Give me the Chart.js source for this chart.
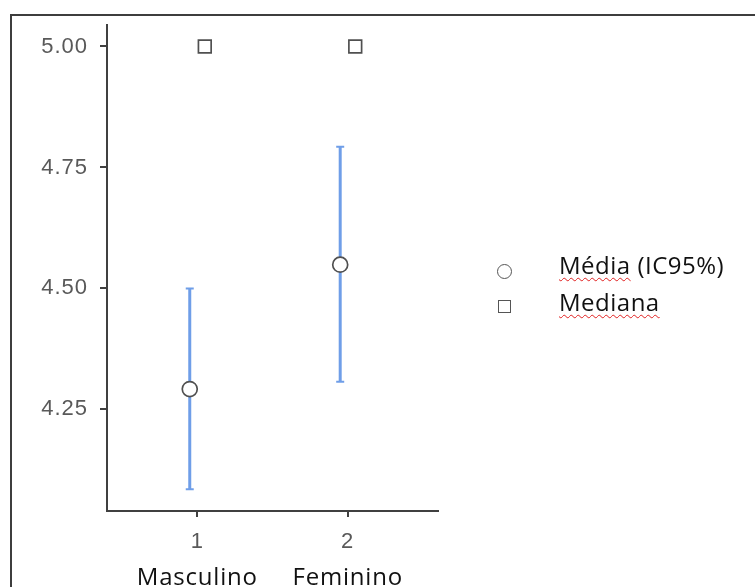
<!DOCTYPE html>
<html>
<head>
<meta charset="utf-8">
<script src="https://cdn.jsdelivr.net/npm/chart.js@4.4.1/dist/chart.umd.min.js"></script>
<style>
  html, body { margin: 0; padding: 0; background: #fff; overflow: hidden; }
  #wrap { position: relative; width: 755px; height: 587px; }
  #frame { position: absolute; left: 10px; top: 14px; right: 0; bottom: 0;
           border-top: 2px solid #3d3d3d; border-left: 2px solid #3d3d3d; }
  #chart { position: absolute; left: 0; top: 0; }
  .mark { position: absolute; border: 1.5px solid #555; background: #fff; }
  .mark.circle { width: 13px; height: 13px; border-radius: 50%; }
  .mark.square { width: 11px; height: 11px; }
  .label { position: absolute; font: 24px/24px "Open Sans", sans-serif; letter-spacing: 0.5px;
           color: #111; white-space: nowrap; }
  .spell { text-decoration: underline wavy #e02020; text-decoration-thickness: 1.2px;
           text-underline-offset: 3px; text-decoration-skip-ink: none; }
</style>
</head>
<body>
<div id="wrap">
  <div id="frame"></div>
  <canvas id="chart" width="755" height="587"></canvas>
  <div class="mark circle" style="left:497px; top:264px;"></div>
  <div class="mark square" style="left:498px; top:300px;"></div>
  <div class="label" style="left:559px; top:253px;"><span class="spell">Média</span> (IC95%)</div>
  <div class="label" style="left:559px; top:290px;"><span class="spell">Mediana</span></div>
</div>
<script>
// group labels and positions on the x axis
const groups = ['Masculino', 'Feminino'];
const groupTicks = [1, 2];

// mean with 95% confidence interval, and median, per group
const meanValues = [4.292, 4.549];
const ciLower = [4.085, 4.307];
const ciUpper = [4.500, 4.793];
const medianValues = [5.00, 5.00];

// y axis tick labels
const yTicks = [4.25, 4.50, 4.75, 5.00];

const dodge = 0.05;
const axisColor = '#404040';
const ciColor = '#6f9ee8';

// one small line dataset per group for the CI whiskers
const ciDatasets = groupTicks.map((g, i) => ({
    data: [{ x: g - dodge, y: ciLower[i] }, { x: g - dodge, y: ciUpper[i] }],
    showLine: true,
    borderColor: ciColor,
    borderWidth: 3,
    pointStyle: 'line',
    pointRadius: 4,
    pointBorderColor: ciColor,
    pointBorderWidth: 2,
    order: 3
}));

// group names written below the tick numbers
const categoryLabels = {
    id: 'categoryLabels',
    beforeDraw(chart) {
        chart.ctx.letterSpacing = '1px';
    },
    afterDraw(chart) {
        const { ctx, scales: { x } } = chart;
        ctx.save();
        ctx.letterSpacing = '0.8px';
        ctx.font = '24px "Open Sans"';
        ctx.fillStyle = '#111';
        ctx.textAlign = 'center';
        ctx.textBaseline = 'alphabetic';
        groups.forEach((name, i) => {
            ctx.fillText(name, x.getPixelForValue(groupTicks[i]), x.bottom - 2);
        });
        ctx.restore();
    }
};

const tickFont = { family: '"Liberation Sans", Arial', size: 22 };

new Chart(document.getElementById('chart'), {
    type: 'scatter',
    data: {
        datasets: [
            ...ciDatasets,
            {
                label: 'Média (IC95%)',
                data: groupTicks.map((g, i) => ({ x: g - dodge, y: meanValues[i] })),
                pointStyle: 'circle',
                pointRadius: 7.5,
                pointBackgroundColor: '#fff',
                pointBorderColor: '#505050',
                pointBorderWidth: 1.7,
                order: 1
            },
            {
                label: 'Mediana',
                data: groupTicks.map((g, i) => ({ x: g + dodge, y: medianValues[i] })),
                pointStyle: 'rect',
                pointRadius: 9,
                pointBackgroundColor: '#fff',
                pointBorderColor: '#505050',
                pointBorderWidth: 1.7,
                order: 1
            }
        ]
    },
    options: {
        responsive: false,
        animation: false,
        layout: { padding: { left: 0, top: 16, right: 317, bottom: 0 } },
        plugins: { legend: { display: false }, tooltip: { enabled: false } },
        scales: {
            x: {
                type: 'linear',
                min: 0.4,
                max: 2.6,
                afterBuildTicks: s => { s.ticks = groupTicks.map(v => ({ value: v })); },
                afterFit: s => { s.height = 76; },
                grid: { drawOnChartArea: false, tickLength: 6, color: axisColor, lineWidth: 2 },
                border: { color: axisColor, width: 2 },
                ticks: { padding: 12, color: '#595959', font: tickFont, callback: v => String(v) }
            },
            y: {
                min: 4.04,
                max: 5.044,
                afterBuildTicks: s => { s.ticks = yTicks.map(v => ({ value: v })); },
                afterFit: s => { s.width = 107; },
                grid: { drawOnChartArea: false, tickLength: 7, color: axisColor, lineWidth: 2 },
                border: { color: axisColor, width: 2 },
                ticks: { padding: 12, color: '#595959', font: tickFont, callback: v => v.toFixed(2) }
            }
        }
    },
    plugins: [categoryLabels]
});
</script>
</body>
</html>
